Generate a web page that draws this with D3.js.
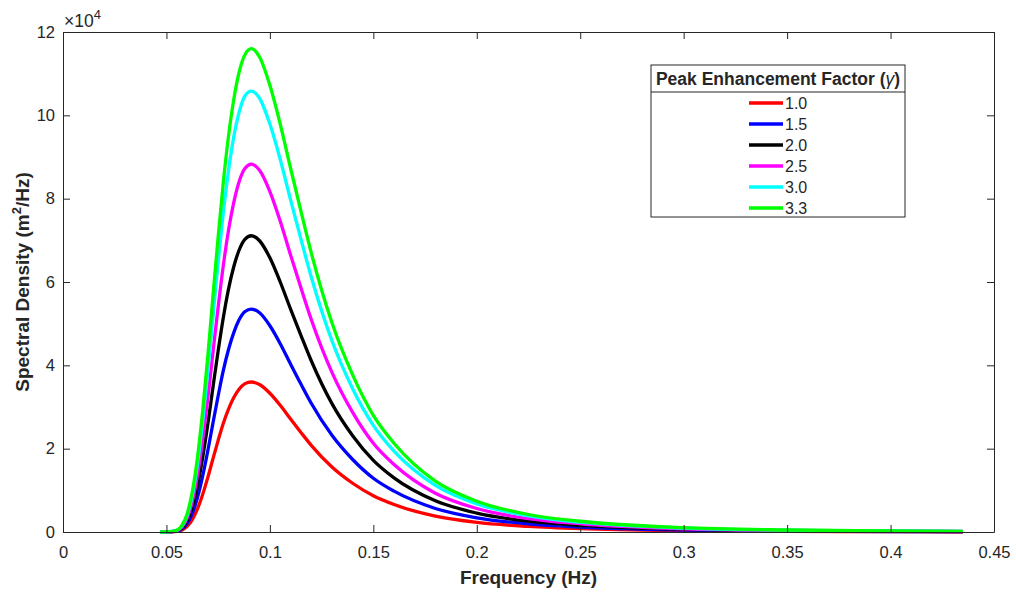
<!DOCTYPE html>
<html>
<head>
<meta charset="utf-8">
<script src="https://cdn.jsdelivr.net/npm/d3@7"></script>
<style>
  body { margin: 0; background: #fff; }
  svg text { font-family: "Liberation Sans", Arial, Helvetica, sans-serif; fill: #262626; }
</style>
</head>
<body>
<svg id="chart" width="1016" height="592"></svg>
<script>
// frequencies (Hz) shared by every curve
var freq = [0.047, 0.05, 0.055, 0.0575, 0.06, 0.0625, 0.065, 0.0675, 0.07, 0.0725, 0.075, 0.0775, 0.08, 0.0825, 0.085, 0.088, 0.091, 0.095, 0.10, 0.105, 0.11, 0.115, 0.12, 0.13, 0.14, 0.15, 0.16, 0.18, 0.20, 0.225, 0.25, 0.30, 0.35, 0.40, 0.435]

// spectral density, in units of 1e4 m^2/Hz
var g10 = [0, 0.0003, 0.013, 0.049, 0.135, 0.299, 0.555, 0.90, 1.31, 1.76, 2.20, 2.61, 2.95, 3.22, 3.42, 3.56, 3.60, 3.54, 3.33, 3.04, 2.71, 2.39, 2.08, 1.56, 1.17, 0.87, 0.66, 0.38, 0.23, 0.135, 0.08, 0.032, 0.015, 0.008, 0.005]
var g15 = [0, 0.0004, 0.019, 0.073, 0.20, 0.444, 0.825, 1.34, 1.95, 2.62, 3.27, 3.88, 4.38, 4.78, 5.08, 5.29, 5.35, 5.26, 4.95, 4.52, 4.03, 3.55, 3.09, 2.32, 1.74, 1.29, 0.98, 0.565, 0.34, 0.195, 0.119, 0.048, 0.022, 0.012, 0.007]
var g20 = [0, 0.0006, 0.026, 0.097, 0.267, 0.59, 1.10, 1.78, 2.59, 3.48, 4.35, 5.15, 5.83, 6.36, 6.75, 7.03, 7.11, 6.99, 6.58, 6.00, 5.35, 4.72, 4.11, 3.08, 2.31, 1.72, 1.30, 0.75, 0.454, 0.26, 0.158, 0.063, 0.030, 0.016, 0.010]
var g25 = [0, 0.0007, 0.032, 0.12, 0.331, 0.733, 1.36, 2.21, 3.21, 4.32, 5.40, 6.40, 7.24, 7.90, 8.39, 8.73, 8.83, 8.68, 8.17, 7.46, 6.65, 5.86, 5.10, 3.83, 2.87, 2.13, 1.62, 0.93, 0.564, 0.32, 0.196, 0.078, 0.037, 0.020, 0.012]
var g30 = [0, 0.0009, 0.038, 0.144, 0.397, 0.879, 1.63, 2.65, 3.85, 5.17, 6.47, 7.67, 8.67, 9.47, 10.05, 10.47, 10.58, 10.41, 9.79, 8.94, 7.97, 7.03, 6.12, 4.59, 3.44, 2.56, 1.94, 1.12, 0.676, 0.385, 0.235, 0.094, 0.044, 0.024, 0.015]
var g33 = [0, 0.001, 0.042, 0.158, 0.435, 0.963, 1.79, 2.90, 4.22, 5.67, 7.08, 8.40, 9.50, 10.37, 11.01, 11.46, 11.6, 11.40, 10.72, 9.79, 8.73, 7.70, 6.70, 5.02, 3.77, 2.80, 2.13, 1.22, 0.74, 0.42, 0.258, 0.103, 0.048, 0.026, 0.016]

var gammaLabels = ["1.0", "1.5", "2.0", "2.5", "3.0", "3.3"]
var seriesValues = [g10, g15, g20, g25, g30, g33]
var colors = ["#ff0000", "#0000ff", "#000000", "#ff00ff", "#00ffff", "#00ff00"]

var xTicks = [0, 0.05, 0.1, 0.15, 0.2, 0.25, 0.3, 0.35, 0.4, 0.45]
var xTickLabels = ["0", "0.05", "0.1", "0.15", "0.2", "0.25", "0.3", "0.35", "0.4", "0.45"]
var yTicks = [0, 2, 4, 6, 8, 10, 12]

// plot area
var plotL = 63, plotR = 994, plotT = 32, plotB = 532
var axisColor = "#262626"

var svg = d3.select("#chart")

var x = d3.scaleLinear().domain([0, 0.45]).range([plotL, plotR])
var y = d3.scaleLinear().domain([0, 12]).range([plotB, plotT])

// curves
var line = d3.line()
  .x(function (d) { return x(d[0]); })
  .y(function (d) { return y(d[1]); })
  .curve(d3.curveMonotoneX)

var series = seriesValues.map(function (vals, i) {
  return { label: gammaLabels[i], color: colors[i], pts: freq.map(function (f, j) { return [f, vals[j]]; }) }
})

svg.append("g")
  .selectAll("path")
  .data(series)
  .enter()
  .append("path")
  .attr("d", function (d) { return line(d.pts); })
  .attr("fill", "none")
  .attr("stroke", function (d) { return d.color; })
  .attr("stroke-width", 3.3)
  .attr("stroke-linejoin", "round")

// axes (MATLAB style box, ticks pointing inward)
function styleAxis(g) {
  g.select(".domain").attr("stroke", axisColor)
  g.selectAll(".tick line").attr("stroke", axisColor)
  g.selectAll(".tick text").attr("fill", axisColor).style("font-size", "16.5px")
    .style("font-family", "'Liberation Sans', Arial, sans-serif")
}

svg.append("g")
  .attr("transform", "translate(0," + plotB + ")")
  .call(d3.axisBottom(x).tickValues(xTicks).tickSizeInner(-7).tickSizeOuter(0).tickPadding(14)
    .tickFormat(function (d, i) { return xTickLabels[i]; }))
  .call(styleAxis)

svg.append("g")
  .attr("transform", "translate(0," + plotT + ")")
  .call(d3.axisTop(x).tickValues(xTicks).tickSizeInner(-7).tickSizeOuter(0).tickFormat(""))
  .call(styleAxis)

svg.append("g")
  .attr("transform", "translate(" + plotL + ",0)")
  .call(d3.axisLeft(y).tickValues(yTicks).tickSizeInner(-7).tickSizeOuter(0).tickPadding(8))
  .call(styleAxis)

svg.append("g")
  .attr("transform", "translate(" + plotR + ",0)")
  .call(d3.axisRight(y).tickValues(yTicks).tickSizeInner(-7).tickSizeOuter(0).tickFormat(""))
  .call(styleAxis)

// exponent label
var expo = svg.append("text")
  .attr("x", plotL + 1)
  .attr("y", 27)
  .style("font-size", "17.5px")
expo.append("tspan").text("\u00d710")
expo.append("tspan").attr("dy", -8).style("font-size", "13px").text("4")

// axis titles
svg.append("text")
  .attr("x", (plotL + plotR) / 2)
  .attr("y", 584)
  .attr("text-anchor", "middle")
  .style("font-size", "19px")
  .style("font-weight", "bold")
  .text("Frequency (Hz)")

var yl = svg.append("text")
  .attr("transform", "translate(29," + ((plotT + plotB) / 2) + ") rotate(-90)")
  .attr("text-anchor", "middle")
  .style("font-size", "19px")
  .style("font-weight", "bold")
yl.append("tspan").text("Spectral Density (m")
yl.append("tspan").attr("dy", -8).style("font-size", "13px").text("2")
yl.append("tspan").attr("dy", 8).text("/Hz)")

// legend
var lg = svg.append("g")
var lgLeft = 651, lgRight = 905, lgTop = 65, lgBottom = 217, lgHead = 92

lg.append("rect")
  .attr("x", lgLeft).attr("y", lgTop)
  .attr("width", lgRight - lgLeft).attr("height", lgBottom - lgTop)
  .attr("fill", "#fff").attr("stroke", axisColor).attr("stroke-width", 1)

lg.append("line")
  .attr("x1", lgLeft).attr("x2", lgRight)
  .attr("y1", lgHead).attr("y2", lgHead)
  .attr("stroke", axisColor)

var ttl = lg.append("text")
  .attr("x", (lgLeft + lgRight) / 2)
  .attr("y", 85)
  .attr("text-anchor", "middle")
  .style("font-size", "17.5px")
  .style("font-weight", "bold")
ttl.append("tspan").text("Peak Enhancement Factor (")
ttl.append("tspan").style("font-weight", "normal").style("font-style", "italic").text("\u03b3")
ttl.append("tspan").text(")")

var rowY = d3.scaleLinear().domain([0, 5]).range([103, 208])

var items = lg.selectAll(".item")
  .data(series)
  .enter()
  .append("g")
  .attr("class", "item")
  .attr("transform", function (d, i) { return "translate(0," + rowY(i) + ")"; })

items.append("line")
  .attr("x1", 749).attr("x2", 783)
  .attr("stroke", function (d) { return d.color; })
  .attr("stroke-width", 3.3)

items.append("text")
  .attr("x", 785)
  .attr("dy", "0.36em")
  .style("font-size", "16px")
  .text(function (d) { return d.label; })
</script>
</body>
</html>
